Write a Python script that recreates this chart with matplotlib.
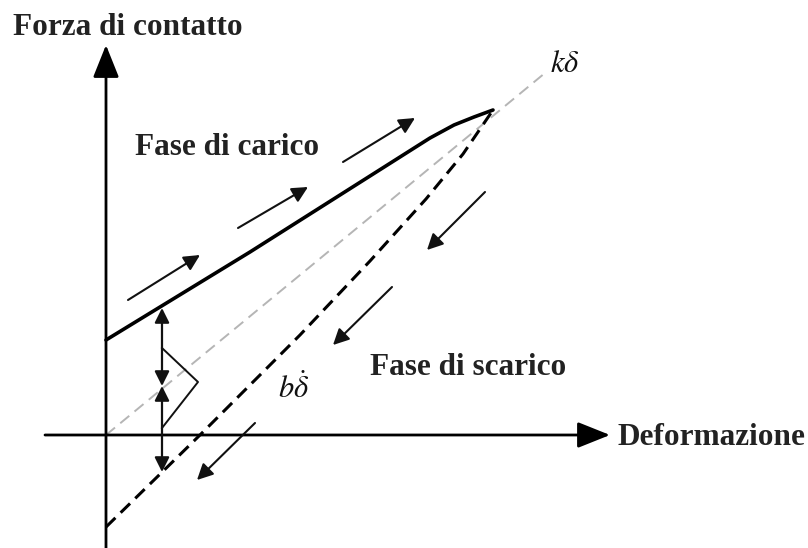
import matplotlib.pyplot as plt

plt.rcParams['mathtext.fontset'] = 'stix'

# curva di carico (forza vs deformazione)
carico_x = [0, 54, 144, 234, 294, 324, 348, 368, 387]
carico_y = [95, 128, 183, 240, 278, 297, 310, 318, 325]

# curva di scarico
scarico_x = [0, 94, 194, 264, 320, 357, 387]
scarico_y = [-92, 0, 100, 174, 236, 281, 325]

# retta k*delta
k_x = [0, 439]
k_y = [0, 362]

# frecce di direzione (coda -> punta)
frecce = [
    ((22, 135), (94, 180)),
    ((132, 207), (202, 248)),
    ((237, 273), (309, 317)),
    ((379, 243), (321, 185)),
    ((286, 148), (227, 90)),
    ((149, 12), (91, -45)),
]

# quote verticali
x_quota = 56
quote = [(127, 49), (49, -37)]

# triangolo
tri_x = [56, 92, 56]
tri_y = [87, 53, 7]

fig = plt.figure(figsize=(8.08, 5.48), dpi=100)
ax = fig.add_axes([0, 0, 1, 1])
ax.set_xlim(-106, 702)
ax.set_ylim(-113, 435)
ax.axis('off')

# assi
ax.annotate('', xy=(0, 390), xytext=(0, -113),
            arrowprops=dict(arrowstyle='-|>,head_length=0.5,head_width=0.2',
                            mutation_scale=40, lw=2, color='black',
                            shrinkA=0, shrinkB=0))
ax.annotate('', xy=(504, 0), xytext=(-61, 0),
            arrowprops=dict(arrowstyle='-|>,head_length=0.5,head_width=0.2',
                            mutation_scale=40, lw=2, color='black',
                            shrinkA=0, shrinkB=0))

ax.plot(k_x, k_y, color='#b5b5b5', lw=1.4, linestyle=(0, (6, 3.5)))
ax.plot(carico_x, carico_y, color='black', lw=2.6, solid_capstyle='round',
        solid_joinstyle='round')
ax.plot(scarico_x, scarico_y, color='black', lw=2.2, linestyle=(0, (4.3, 2.4)),
        dash_joinstyle='round')

for (x0, y0), (x1, y1) in frecce:
    ax.annotate('', xy=(x1, y1), xytext=(x0, y0),
                arrowprops=dict(arrowstyle='-|>', mutation_scale=24, lw=1.5,
                                color='#111111', shrinkA=0, shrinkB=0))

for y0, y1 in quote:
    ax.annotate('', xy=(x_quota, y1), xytext=(x_quota, y0),
                arrowprops=dict(arrowstyle='<|-|>', mutation_scale=22, lw=1.6,
                                color='#111111', shrinkA=0, shrinkB=0))

ax.plot(tri_x, tri_y, color='#111111', lw=1.4)

font = dict(family='Liberation Serif', weight='bold', fontsize=22.5, color='#222222')
ax.text(-93, 400, 'Forza di contatto', ha='left', va='baseline', **font)
ax.text(512, -10, 'Deformazione', ha='left', va='baseline', **font)
ax.text(29, 280, 'Fase di carico', ha='left', va='baseline', **font)
ax.text(264, 60, 'Fase di scarico', ha='left', va='baseline', **font)

ax.text(444, 363, r'$k\delta$', fontsize=22, ha='left', va='baseline', color='#111111')
ax.text(172, 37, r'$b\dot{\delta}$', fontsize=22, ha='left', va='baseline', color='#111111')

fig.savefig('out.png', dpi=100)
